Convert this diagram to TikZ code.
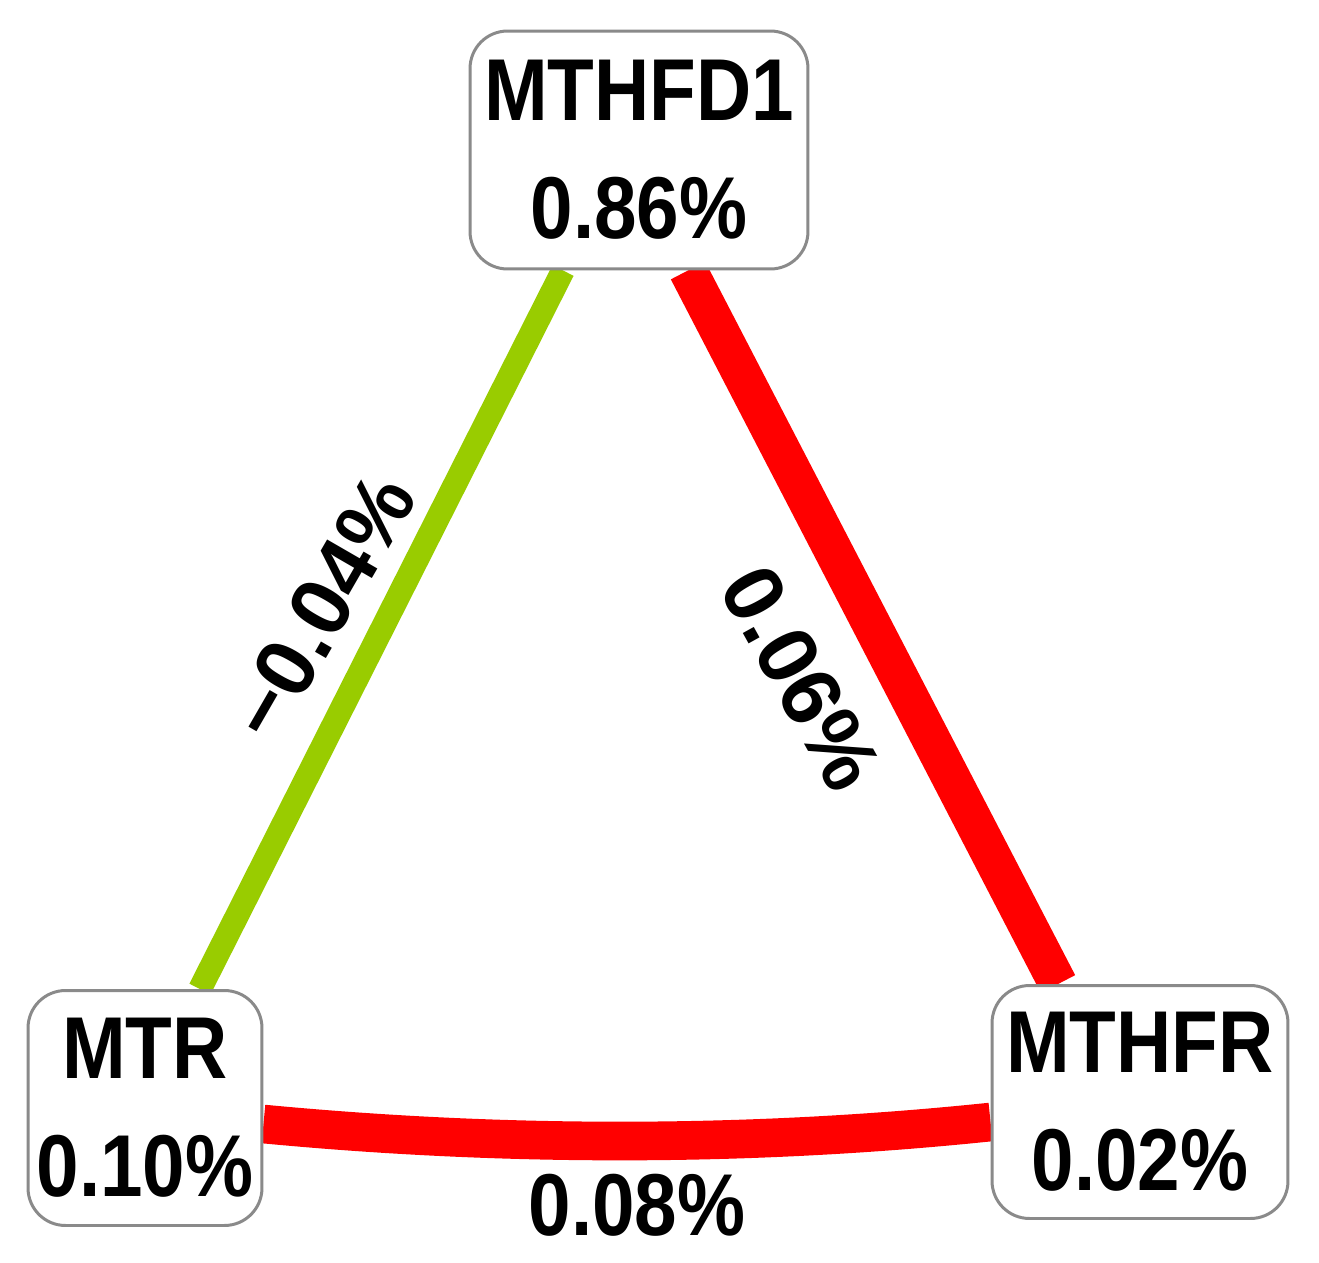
\documentclass[tikz,border=0pt]{standalone}
\usepackage{fontspec}
\newfontfamily\nodefont[FakeStretch=0.87]{Liberation Sans}
\newfontfamily\rotfont{Liberation Sans}
\usetikzlibrary{calc,backgrounds}
\definecolor{edgegreen}{HTML}{99CC00}
\definecolor{edgered}{HTML}{FF0000}
\definecolor{boxgray}{HTML}{8A8A8A}
\begin{document}
\begin{tikzpicture}[x=0.02cm,y=-0.02cm,
  gene/.style={draw=boxgray, line width=1.7pt, fill=white, rounded corners=0.75cm,
    inner sep=0pt, align=center, font=\nodefont\bfseries\fontsize{50}{67}\selectfont},
  rotlbl/.style={inner sep=0pt, font=\rotfont\bfseries\fontsize{48}{60}\selectfont},
  flatlbl/.style={inner sep=0pt, font=\nodefont\bfseries\fontsize{50}{60}\selectfont},
  weak/.style={draw=edgegreen, line width=13.5pt},
  strong/.style={draw=edgered, line width=22pt}]
\useasboundingbox (0,0) rectangle (1319,1262);
\node[gene, minimum width=6.76cm, minimum height=4.76cm] (mthfd1) at (639,150) {MTHFD1\\0.86\%};
\node[gene, minimum width=4.68cm, minimum height=4.70cm] (mtr) at (145,1108) {MTR\\0.10\%};
\node[gene, minimum width=5.92cm, minimum height=4.66cm] (mthfr) at (1140,1102) {MTHFR\\0.02\%};
\begin{scope}[on background layer]
\fill[white] (0,0) rectangle (1319,1262);
\draw[weak] ($(mthfd1.south)+(-76,0)$) -- ($(mtr.north)+(55,0)$);
\draw[strong] ($(mthfd1.south)+(49,0)$) -- ($(mthfr.north)+(-82,0)$);
\draw[strong] ($(mtr.east)+(0,16)$) .. controls (505,1147) and (750,1147) .. ($(mthfr.west)+(0,20)$);
\end{scope}
\node[rotlbl, rotate=60] (lab1) at (322,607) {−0.04\%};
\node[rotlbl, rotate=-61] (lab2) at (801,678) {0.06\%};
\node[flatlbl] (lab3) at (637,1205) {0.08\%};
\end{tikzpicture}
\end{document}
